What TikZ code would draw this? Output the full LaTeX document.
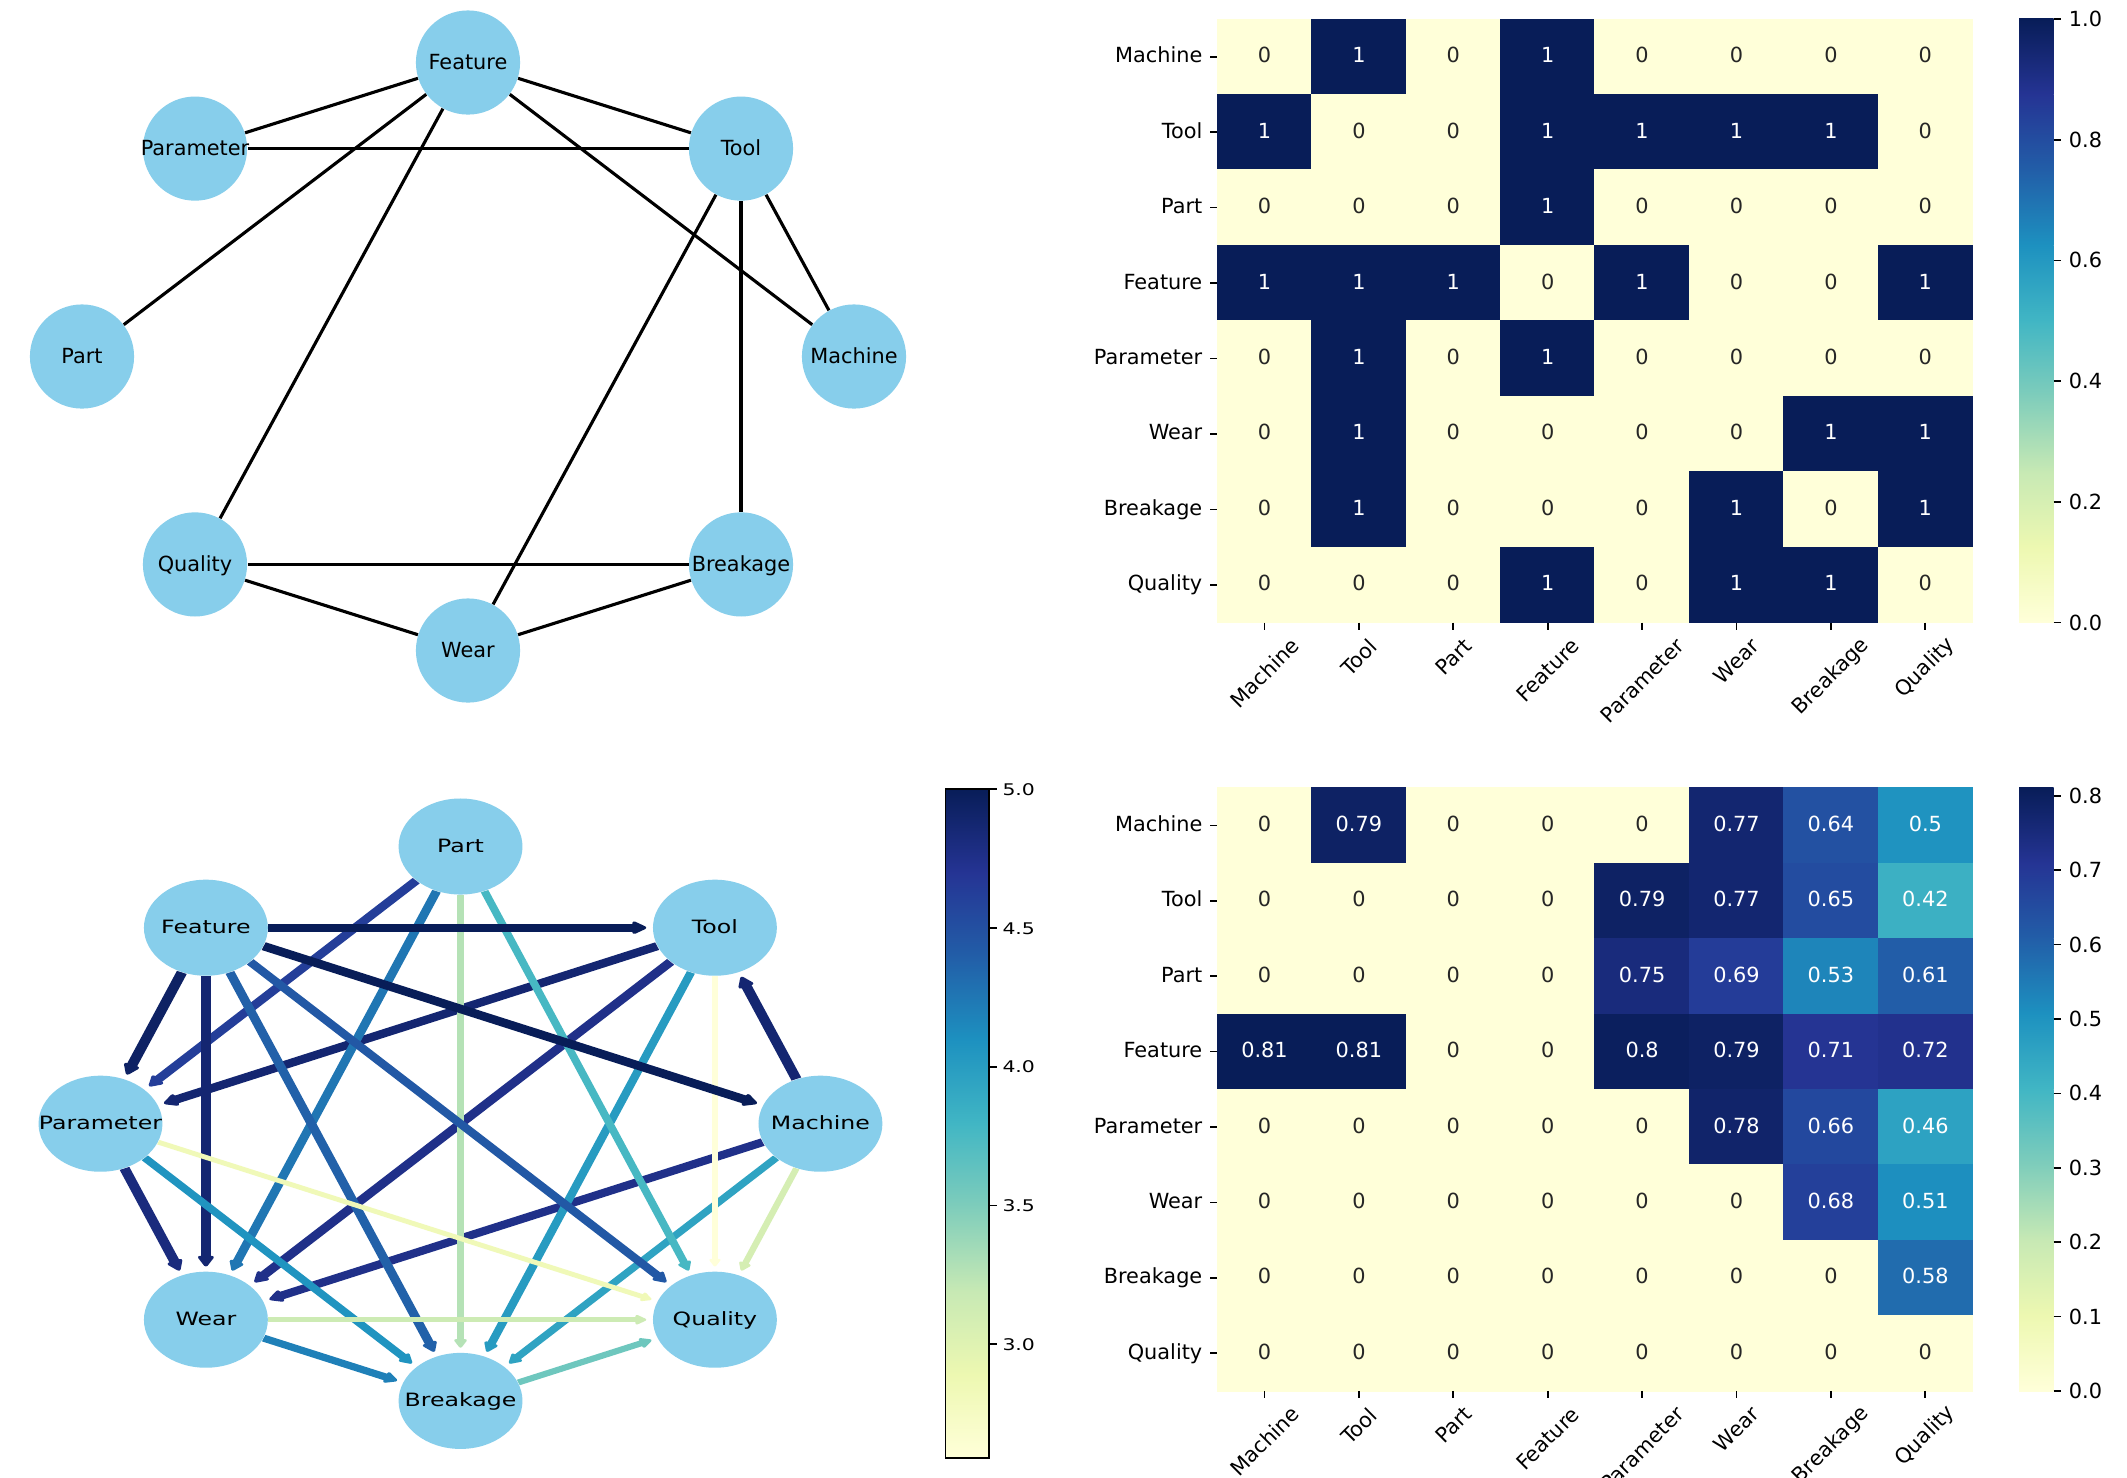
\documentclass[tikz,border=0pt]{standalone}
\usepackage{fontspec}
\setmainfont{DejaVu Sans}
\usetikzlibrary{shapes.geometric,arrows.meta}
\definecolor{yg0}{HTML}{FFFFD9}
\definecolor{yg1}{HTML}{EDF8B1}
\definecolor{yg2}{HTML}{C7E9B4}
\definecolor{yg3}{HTML}{7FCDBB}
\definecolor{yg4}{HTML}{41B6C4}
\definecolor{yg5}{HTML}{1D91C0}
\definecolor{yg6}{HTML}{225EA8}
\definecolor{yg7}{HTML}{253494}
\definecolor{yg8}{HTML}{081D58}
\definecolor{skyb}{HTML}{87CEEB}
\definecolor{txtdark}{HTML}{262626}
\newcommand\ygbset[2]{%
  \pgfmathsetmacro\ygT{8*max(0,min(1,#2))}%
  \pgfmathtruncatemacro\ygK{min(7,\ygT)}%
  \pgfmathtruncatemacro\ygKK{\ygK+1}%
  \pgfmathsetmacro\ygF{100*(\ygT-\ygK)}%
  \colorlet{#1}{yg\ygKK!\ygF!yg\ygK}%
}
\newcommand\ygbbar[4]{%
  \foreach \k in {0,...,7}{%
    \pgfmathtruncatemacro\kk{\k+1}%
    \pgfmathsetmacro\ya{#4-(#4-#2)*\k/8+0.3}%
    \pgfmathsetmacro\yb{#4-(#4-#2)*(\k+1)/8-0.3}%
    \shade[bottom color=yg\k, top color=yg\kk] (#1,\ya) rectangle (#3,\yb);
  }%
}
\begin{document}
\begin{tikzpicture}[x=0.48pt,y=-0.48pt,
  tlnode/.style={circle,fill=skyb,inner sep=0pt,minimum size=50pt},
  tllab/.style={font=\fontsize{10}{12}\selectfont,inner sep=0pt,anchor=base},
  blnode/.style={circle,fill=skyb,inner sep=0pt,minimum size=46.1pt},
  bllab/.style={font=\fontsize{8.8}{10.5}\selectfont,inner sep=0pt,anchor=base},
  uedge/.style={line width=1.5pt,black},
  barr/.style={-{Triangle[round,length=2.4pt 0.9,width=2.4pt 1.07]},shorten >=2.3pt},
  ticmark/.style={line width=0.8pt,black},
  ticklab/.style={font=\fontsize{10}{12}\selectfont,inner sep=0pt,text=black},
  lcblab/.style={font=\fontsize{7.7}{9}\selectfont,inner sep=0pt,text=black,xscale=1.27},
  annot/.style={font=\fontsize{10}{12}\selectfont,inner sep=0pt,anchor=base},
]
\useasboundingbox (0,0) rectangle (2127,1477);
\fill[white] (0,0) rectangle (2127,1477);

% ---------------- top-left undirected graph ----------------
\foreach \n/\x/\y in {Feature/468/62.5, Tool/741/148.6, Machine/854/356.5,
  Breakage/741/564.4, Wear/468/650.5, Quality/195/564.4, Part/82/356.5,
  Parameter/195/148.6}{
  \node[tlnode] (a\n) at (\x,\y) {};
}
\foreach \a/\b in {Machine/Tool, Machine/Feature, Tool/Feature, Tool/Parameter,
  Tool/Wear, Tool/Breakage, Part/Feature, Feature/Parameter, Feature/Quality,
  Wear/Breakage, Wear/Quality, Breakage/Quality}{
  \draw[uedge] (a\a) -- (a\b);
}
\foreach \n in {Feature,Tool,Machine,Breakage,Wear,Quality,Part,Parameter}{
  \node[tllab] (al\n) at ([yshift=-3.3pt]a\n.center) {\n};
}

% ---------------- bottom-left directed graph (stretched horizontally) ----------------
\begin{scope}[transform canvas={xscale=1.29}]
\foreach \n/\x/\y in {Part/357.0/846.5, Tool/554.2/927.7, Machine/636.0/1123.7,
  Quality/554.2/1319.7, Breakage/357.0/1400.9, Wear/159.6/1319.7,
  Parameter/77.9/1123.7, Feature/159.6/927.7}{
  \node[blnode] (b\n) at (\x,\y) {};
}
\foreach \a/\b/\v in {Machine/Tool/0.79, Machine/Wear/0.77, Machine/Breakage/0.64,
  Machine/Quality/0.5, Tool/Parameter/0.79, Tool/Wear/0.77, Tool/Breakage/0.65,
  Tool/Quality/0.42, Part/Parameter/0.75, Part/Wear/0.69, Part/Breakage/0.53,
  Part/Quality/0.61, Feature/Machine/0.81, Feature/Tool/0.81, Feature/Parameter/0.8,
  Feature/Wear/0.79, Feature/Breakage/0.71, Feature/Quality/0.72,
  Parameter/Wear/0.78, Parameter/Breakage/0.66, Parameter/Quality/0.46,
  Wear/Breakage/0.68, Wear/Quality/0.51, Breakage/Quality/0.58}{
  \ygbset{ec}{(\v-0.42)/0.39}
  \pgfmathsetmacro\lw{4.94*\v}
  \draw[barr, line width=\lw pt, draw=ec, fill=ec] (b\a) -- (b\b);
}
\foreach \n in {Part,Tool,Machine,Quality,Breakage,Wear,Parameter,Feature}{
  \node[bllab] (bl\n) at ([yshift=-2.7pt]b\n.center) {\n};
}
\end{scope}

% colorbar of the directed graph
\ygbbar{945.5}{789}{989}{1458.3}
\draw[line width=0.8pt,black] (945.5,789) rectangle (989,1458.3);
\foreach \v in {3.0,3.5,4.0,4.5,5.0}{
  \draw[ticmark] (989,{789+(5-\v)*277.65}) -- ++(7.5,0);
  \node[lcblab,anchor=base west] (lcb\v) at (1002,{789+(5-\v)*277.65+6.3}) {\v};
}

% ---------------- top-right heatmap ----------------
\foreach \row [count=\r from 0] in {{0,1,0,1,0,0,0,0},{1,0,0,1,1,1,1,0},
  {0,0,0,1,0,0,0,0},{1,1,1,0,1,0,0,1},{0,1,0,1,0,0,0,0},{0,1,0,0,0,0,1,1},
  {0,1,0,0,0,1,0,1},{0,0,0,1,0,1,1,0}}{
  \foreach \v [count=\c from 0] in \row {
    \ygbset{cc}{\v}
    \ifdim\v pt>0.5pt \colorlet{tc}{white}\else\colorlet{tc}{txtdark}\fi
    \fill[cc,draw=cc,line width=0.4pt] ({1217.3+94.4*\c},{19+75.45*\r}) rectangle ++(94.4,75.45);
    \node[annot,text=tc] (hA-\r-\c) at ({1264.5+94.4*\c},{56.7+75.45*\r+6}) {\v};
  }
}
\foreach \n [count=\r from 0] in {Machine,Tool,Part,Feature,Parameter,Wear,Breakage,Quality}{
  \draw[ticmark] (1210,{56.7+75.45*\r}) -- (1217.3,{56.7+75.45*\r});
  \node[ticklab,anchor=base east] (hAr\r) at (1202.7,{56.7+75.45*\r+6}) {\n};
}
\foreach \n/\off [count=\c from 0] in {Machine/36.1,Tool/20.9,Part/20.2,Feature/33.7,
  Parameter/44.0,Wear/24.6,Breakage/40.4,Quality/31.6}{
  \draw[ticmark] ({1264.5+94.4*\c},622.6) -- ++(0,7.3);
  \node[ticklab,rotate=45] (hAc\c) at ({1264.5+94.4*\c},{636.6+\off}) {\n};
}
\ygbbar{2019}{19}{2053.7}{622.6}
\foreach \v in {0.0,0.2,0.4,0.6,0.8,1.0}{
  \draw[ticmark] (2053.7,{622.6-\v*603.6}) -- ++(7.3,0);
  \node[ticklab,anchor=base west] (acb\v) at (2068.5,{622.6-\v*603.6+7.5}) {\v};
}

% ---------------- bottom-right heatmap ----------------
\foreach \row [count=\r from 0] in {{0,0.79,0,0,0,0.77,0.64,0.5},
  {0,0,0,0,0.79,0.77,0.65,0.42},{0,0,0,0,0.75,0.69,0.53,0.61},
  {0.81,0.81,0,0,0.8,0.79,0.71,0.72},{0,0,0,0,0,0.78,0.66,0.46},
  {0,0,0,0,0,0,0.68,0.51},{0,0,0,0,0,0,0,0.58},{0,0,0,0,0,0,0,0}}{
  \foreach \v [count=\c from 0] in \row {
    \ygbset{cc}{\v/0.81}
    \ifdim\v pt>0pt \colorlet{tc}{white}\else\colorlet{tc}{txtdark}\fi
    \fill[cc,draw=cc,line width=0.4pt] ({1217.3+94.4*\c},{787.7+75.4*\r}) rectangle ++(94.4,75.4);
    \node[annot,text=tc] (hB-\r-\c) at ({1264.5+94.4*\c},{825.4+75.4*\r+6}) {\v};
  }
}
\foreach \n [count=\r from 0] in {Machine,Tool,Part,Feature,Parameter,Wear,Breakage,Quality}{
  \draw[ticmark] (1210,{825.4+75.4*\r}) -- (1217.3,{825.4+75.4*\r});
  \node[ticklab,anchor=base east] (hBr\r) at (1202.7,{825.4+75.4*\r+6}) {\n};
}
\foreach \n/\off [count=\c from 0] in {Machine/36.1,Tool/20.9,Part/20.2,Feature/33.7,
  Parameter/44.0,Wear/24.6,Breakage/40.4,Quality/31.6}{
  \draw[ticmark] ({1264.5+94.4*\c},1390.9) -- ++(0,7.3);
  \node[ticklab,rotate=45] (hBc\c) at ({1264.5+94.4*\c},{1404.9+\off}) {\n};
}
\ygbbar{2019}{787.7}{2053.7}{1390.9}
\foreach \v in {0.0,0.1,0.2,0.3,0.4,0.5,0.6,0.7,0.8}{
  \draw[ticmark] (2053.7,{1390.9-\v/0.811*603.2}) -- ++(7.3,0);
  \node[ticklab,anchor=base west] (bcb\v) at (2068.5,{1390.9-\v/0.811*603.2+7.5}) {\v};
}
\end{tikzpicture}
\end{document}
